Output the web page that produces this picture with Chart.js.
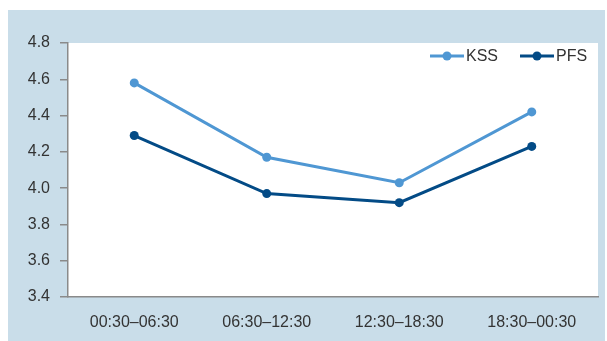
<!DOCTYPE html>
<html>
<head>
<meta charset="utf-8">
<script src="https://cdn.jsdelivr.net/npm/chart.js@4"></script>
<style>
  html, body { margin: 0; padding: 0; background: #fff; }
  #wrap { width: 607px; height: 341px; }
</style>
</head>
<body>
<div id="wrap"><canvas id="myChart" width="607" height="341"></canvas></div>
<script>
const categories = ["00:30–06:30", "06:30–12:30", "12:30–18:30", "18:30–00:30"];
const kss = [4.58, 4.17, 4.03, 4.42];
const pfs = [4.29, 3.97, 3.92, 4.23];
const seriesNames = ["KSS", "PFS"];

const FONT = "'Liberation Sans Narrow', 'Liberation Sans', Arial, sans-serif";
const KSS_COLOR = "#4f97d3";
const PFS_COLOR = "#034b86";

// blue frame + white plot area
const backdrop = {
  id: "backdrop",
  beforeDraw(c) {
    const ctx = c.ctx, a = c.chartArea;
    ctx.save();
    ctx.fillStyle = "#c9dde9";
    ctx.fillRect(8, 10, 597, 331);
    ctx.fillStyle = "#ffffff";
    ctx.fillRect(a.left, a.top, a.right - a.left, a.bottom - a.top);
    ctx.restore();
  }
};

// legend drawn inside the plot, top right
const lineLegend = {
  id: "lineLegend",
  afterDraw(c) {
    const ctx = c.ctx;
    const y = 56;
    const items = [
      { x: 430, color: KSS_COLOR, text: seriesNames[0] },
      { x: 520, color: PFS_COLOR, text: seriesNames[1] }
    ];
    ctx.save();
    items.forEach(it => {
      ctx.strokeStyle = it.color;
      ctx.lineWidth = 3;
      ctx.beginPath();
      ctx.moveTo(it.x, it.x === 430 ? y : y);
      ctx.lineTo(it.x + 34, y);
      ctx.stroke();
      ctx.fillStyle = it.color;
      ctx.beginPath();
      ctx.arc(it.x + 17, y, 4.5, 0, Math.PI * 2);
      ctx.fill();
      ctx.fillStyle = "#333";
      ctx.font = "16px " + FONT;
      ctx.textBaseline = "middle";
      ctx.fillText(it.text, it.x + 36, y + 1);
    });
    ctx.restore();
  }
};

new Chart(document.getElementById("myChart"), {
  type: "line",
  data: {
    labels: categories,
    datasets: [
      {
        label: seriesNames[0],
        data: kss,
        borderColor: KSS_COLOR,
        backgroundColor: KSS_COLOR,
        borderWidth: 3,
        pointRadius: 4.5,
        pointBorderWidth: 0,
        pointHoverRadius: 4.5,
        tension: 0
      },
      {
        label: seriesNames[1],
        data: pfs,
        borderColor: PFS_COLOR,
        backgroundColor: PFS_COLOR,
        borderWidth: 3,
        pointRadius: 4.5,
        pointBorderWidth: 0,
        pointHoverRadius: 4.5,
        tension: 0
      }
    ]
  },
  options: {
    responsive: false,
    animation: false,
    layout: { padding: { left: 0, top: 43, right: 9, bottom: 0 } },
    plugins: {
      legend: { display: false },
      tooltip: { enabled: false }
    },
    scales: {
      x: {
        offset: true,
        grid: { display: false },
        border: { display: true, color: "#8a8a8a", width: 1.5 },
        ticks: { color: "#333", font: { family: FONT, size: 16 }, padding: 8, maxRotation: 0 },
        afterFit(s) { s.height = 44; }
      },
      y: {
        min: 3.4,
        max: 4.8,
        ticks: {
          stepSize: 0.2,
          color: "#333",
          font: { family: FONT, size: 16 },
          padding: 10,
          callback: v => v.toFixed(1)
        },
        grid: { drawOnChartArea: false, drawTicks: true, tickLength: 8, color: "#8a8a8a", lineWidth: 1.5 },
        border: { display: true, color: "#8a8a8a", width: 1.5 },
        afterFit(s) { s.width = 68; }
      }
    }
  },
  plugins: [backdrop, lineLegend]
});
</script>
</body>
</html>
